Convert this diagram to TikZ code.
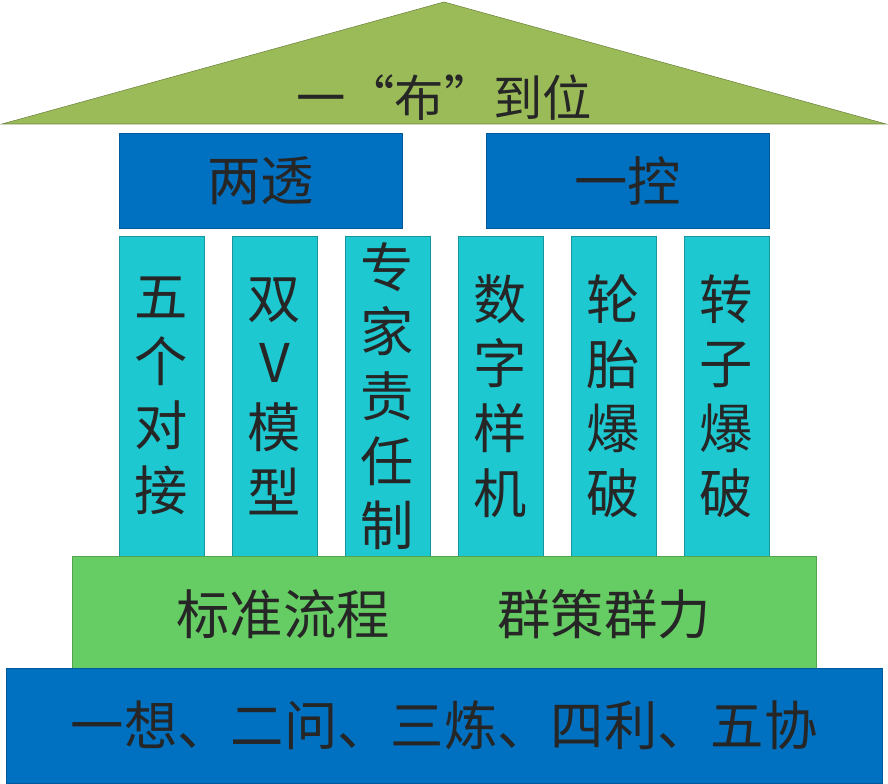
\documentclass[tikz,border=0pt]{standalone}
\usepackage{fontspec}
\newfontfamily\cjk{Noto Sans CJK SC}
\usetikzlibrary{positioning,calc}
\definecolor{roofgreen}{RGB}{155,187,89}
\definecolor{beamblue}{RGB}{0,112,192}
\definecolor{pillarcyan}{RGB}{30,200,208}
\definecolor{basegreen}{RGB}{102,204,100}
\definecolor{txtgray}{RGB}{38,38,38}

\begin{document}
\begin{tikzpicture}[x=0.75pt,y=-0.75pt,
       block/.style={rectangle, inner sep=0pt, text=txtgray, thin},
       beam/.style={block, fill=beamblue, draw=beamblue!80!black,
         minimum width=212pt, minimum height=71pt,
         font=\cjk\fontsize{40}{48}\selectfont},
       pillar/.style={block, fill=pillarcyan, draw=pillarcyan!75!black,
         minimum width=64pt, minimum height=240pt, align=center,
         font=\cjk\fontsize{40}{48.5}\selectfont},
       layer/.style={block, font=\cjk\fontsize{40}{48}\selectfont}]
      \useasboundingbox (0,0) rectangle (888,784);
      % roof
      \coordinate (roofL) at (2,124);
      \coordinate (roofT) at (444,2);
      \coordinate (roofR) at (886,124);
      \draw[fill=roofgreen, draw=roofgreen!70!black, thin] (roofL) -- (roofT) -- (roofR) -- cycle;
      \node[block, font=\cjk\fontsize{37}{40}\selectfont] (roof) at (444,98) {一“布”到位};
      % beams
      \node[beam] (liangtou) at (260.5,180.5) {两透};
      \node[beam] (yikong) at (627.5,180.5) {一控};
      % pillars
      \foreach \i/\txt in {1/{五\\个\\对\\接}, 2/{双\\V\\模\\型}, 3/{专\\家\\责\\任\\制},
                          4/{数\\字\\样\\机}, 5/{轮\\胎\\爆\\破}, 6/{转\\子\\爆\\破}}
        \node[pillar] (p\i) at (48.5+113*\i,396) {\txt};
      % base layers
      \node[block, fill=basegreen, draw=basegreen!80!black,
        minimum width=558pt, minimum height=84pt] (flow) at (444,612) {};
      \node[layer] (biaozhun) at (283,614) {标准流程};
      \node[layer] (qunce) at (604,614) {群策群力};
      \node[block, fill=beamblue, draw=beamblue!80!black,
        minimum width=657pt, minimum height=86pt, font=\cjk\fontsize{40}{48}\selectfont] (base) at (444,725.5)
        {一想、二问、三炼、四利、五协};
     \end{tikzpicture}
\end{document}
